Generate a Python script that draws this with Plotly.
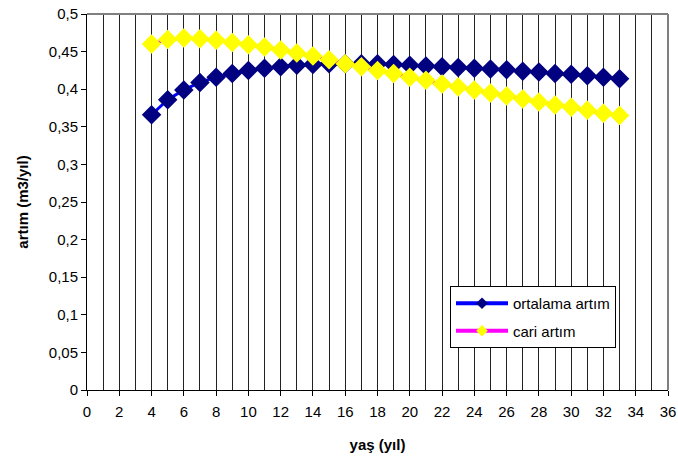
import plotly.graph_objects as go

years = list(range(4, 34))
ortalama = [0.366, 0.386, 0.399, 0.409, 0.416, 0.421, 0.425, 0.428, 0.430, 0.432,
            0.433, 0.434, 0.434, 0.434, 0.434, 0.433, 0.432, 0.431, 0.430, 0.429,
            0.428, 0.427, 0.426, 0.424, 0.423, 0.421, 0.420, 0.418, 0.416, 0.414]
cari = [0.460, 0.466, 0.468, 0.467, 0.465, 0.462, 0.459, 0.456, 0.452, 0.448,
        0.444, 0.439, 0.434, 0.430, 0.425, 0.421, 0.416, 0.412, 0.407, 0.403,
        0.399, 0.395, 0.391, 0.387, 0.383, 0.379, 0.376, 0.372, 0.368, 0.365]
series_names = ["ortalama artım", "cari artım"]

FONT = "Liberation Sans, Arial, sans-serif"
line_colors = ["#0000FF", "#FF00FF"]
marker_colors = ["#000080", "#FFFF00"]

fig = go.Figure()
for name, vals, lc, mc in zip(series_names, [ortalama, cari], line_colors, marker_colors):
    fig.add_trace(go.Scatter(
        x=years, y=vals, name=name, mode="lines+markers", showlegend=False,
        line=dict(color=lc, width=3),
        marker=dict(symbol="diamond", size=15, color=mc, line=dict(width=0)),
    ))
# legend-only entries with smaller symbols
for i, (name, lc, mc) in enumerate(zip(series_names, line_colors, marker_colors)):
    fig.add_trace(go.Scatter(
        x=[None], y=[None], name=name, mode="lines+markers", legendgroup=f"g{i}",
        line=dict(color=lc, width=4),
        marker=dict(symbol="diamond", size=9, color=mc, line=dict(width=0)),
    ))

fig.update_layout(
    width=678, height=462,
    margin=dict(l=87, r=10, t=14, b=72),
    paper_bgcolor="white", plot_bgcolor="white",
    separators=",.",
    font=dict(family=FONT, size=15, color="black"),
    showlegend=True,
    legend=dict(
        x=(450 - 87) / 581, y=(390 - 286) / 376, xanchor="left", yanchor="top",
        bgcolor="white", bordercolor="black", borderwidth=1,
        font=dict(family=FONT, size=15, color="black"),
        itemwidth=52, tracegroupgap=5,
    ),
    xaxis=dict(
        range=[0, 36], dtick=2, tick0=0, automargin=False,
        showgrid=True, gridcolor="#222222", gridwidth=1,
        minor=dict(dtick=1, showgrid=True, gridcolor="#222222", gridwidth=1,
                   ticks="", tick0=0),
        ticks="outside", ticklen=5, tickcolor="black",
        ticklabelstandoff=3,
        showline=True, linecolor="black", linewidth=1,
        zeroline=False,
        title=dict(text="<b>yaş (yıl)</b>", font=dict(family=FONT, size=15), standoff=20),
        tickfont=dict(family=FONT, size=15),
    ),
    yaxis=dict(
        range=[0, 0.5], dtick=0.05, tick0=0, automargin=False,
        showgrid=False,
        ticks="outside", ticklen=5, tickcolor="black",
        showline=True, linecolor="black", linewidth=1,
        zeroline=False,
        title=dict(text="<b>artım (m3/yıl)</b>", font=dict(family=FONT, size=15), standoff=16),
        tickfont=dict(family=FONT, size=15),
    ),
)

fig.add_shape(type="line", xref="paper", yref="paper", x0=0, x1=1, y0=1, y1=1,
              line=dict(color="#808080", width=2))
fig.add_shape(type="line", xref="paper", yref="paper", x0=1, x1=1, y0=0, y1=1,
              line=dict(color="#808080", width=2))

fig.write_html("out.html")
